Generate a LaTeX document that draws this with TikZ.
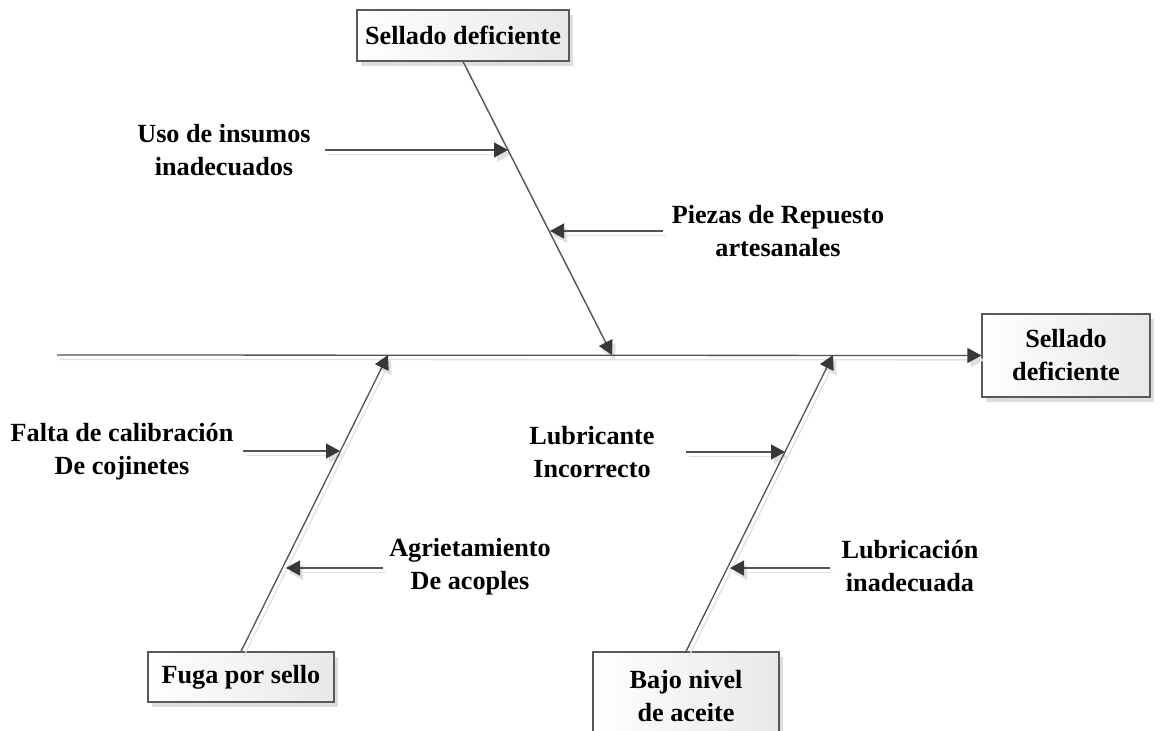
\documentclass[tikz,border=0pt]{standalone}
\usepackage{fontspec}
\setmainfont{Liberation Serif}
\usetikzlibrary{arrows.meta,shadows}

\tikzset{
  cause/.style={draw=black!65,line width=0.6pt,left color=white,right color=black!9,
    drop shadow={shadow xshift=2pt,shadow yshift=-2.5pt,fill=black!13,opacity=1},
    align=center,font=\fontsize{13.1pt}{16.5pt}\selectfont\bfseries,inner sep=0pt},
  lbl/.style={align=center,font=\fontsize{13.1pt}{16.5pt}\selectfont\bfseries},
  bone/.style={draw=black!68,line width=0.65pt,
    -{Triangle[length=7pt,width=7.5pt,fill=black!78,color=black!78]}},
  boneshade/.style={draw=black!12,line width=0.65pt,
    -{Triangle[length=7pt,width=7.5pt]},transform canvas={shift={(1.5pt,-2.2pt)}}}
}

\begin{document}
\begin{tikzpicture}[x=0.5pt,y=-0.5pt]
\useasboundingbox (0,0) rectangle (1165,731);

% boxes
\node[cause,minimum width=106pt,minimum height=25.5pt] (top) at (463,35.5) {Sellado deficiente};
\node[cause,minimum width=84pt,minimum height=41.5pt] (effect) at (1066,355.5) {Sellado\\deficiente};
\node[cause,minimum width=93pt,minimum height=25pt] (fuga) at (241,677) {Fuga por sello};
\node[cause,minimum width=93pt,minimum height=44pt] (bajo) at (686,696) {Bajo nivel\\de aceite};

% labels
\node[lbl] (uso) at (224,150) {Uso de insumos\\inadecuados};
\node[lbl] (piezas) at (778,231) {Piezas de Repuesto\\artesanales};
\node[lbl] (falta) at (122,452) {Falta de calibración\\De cojinetes};
\node[lbl] (agriet) at (470,567) {Agrietamiento\\De acoples};
\node[lbl] (lubri) at (592,452) {Lubricante\\Incorrecto};
\node[lbl] (lubrin) at (910,566) {Lubricación\\inadecuada};

% points on spine and bones
\coordinate (s0) at (57,355);
\coordinate (h1) at (612,355);
\coordinate (h2) at (388,355);
\coordinate (h3) at (833,355);
\coordinate (u1s) at (325,150);   \coordinate (u1e) at (508,150);
\coordinate (p1s) at (663,231);   \coordinate (p1e) at (550,231);
\coordinate (f1s) at (243,451);   \coordinate (f1e) at (340,451);
\coordinate (a1s) at (383,568);   \coordinate (a1e) at (286,568);
\coordinate (l1s) at (686,452);   \coordinate (l1e) at (785,452);
\coordinate (l2s) at (830,568);   \coordinate (l2e) at (730,568);

% shadows first
\draw[boneshade] (s0) -- (effect.west);
\draw[boneshade] (top.south) -- (h1);
\draw[boneshade] (fuga.north) -- (h2);
\draw[boneshade] (bajo.north) -- (h3);
\draw[boneshade] (u1s) -- (u1e);
\draw[boneshade] (p1s) -- (p1e);
\draw[boneshade] (f1s) -- (f1e);
\draw[boneshade] (a1s) -- (a1e);
\draw[boneshade] (l1s) -- (l1e);
\draw[boneshade] (l2s) -- (l2e);

% spine and bones
\draw[bone] (s0) -- (effect.west);
\draw[bone] (top.south) -- (h1);
\draw[bone] (fuga.north) -- (h2);
\draw[bone] (bajo.north) -- (h3);
\draw[bone] (u1s) -- (u1e);
\draw[bone] (p1s) -- (p1e);
\draw[bone] (f1s) -- (f1e);
\draw[bone] (a1s) -- (a1e);
\draw[bone] (l1s) -- (l1e);
\draw[bone] (l2s) -- (l2e);

\end{tikzpicture}
\end{document}
